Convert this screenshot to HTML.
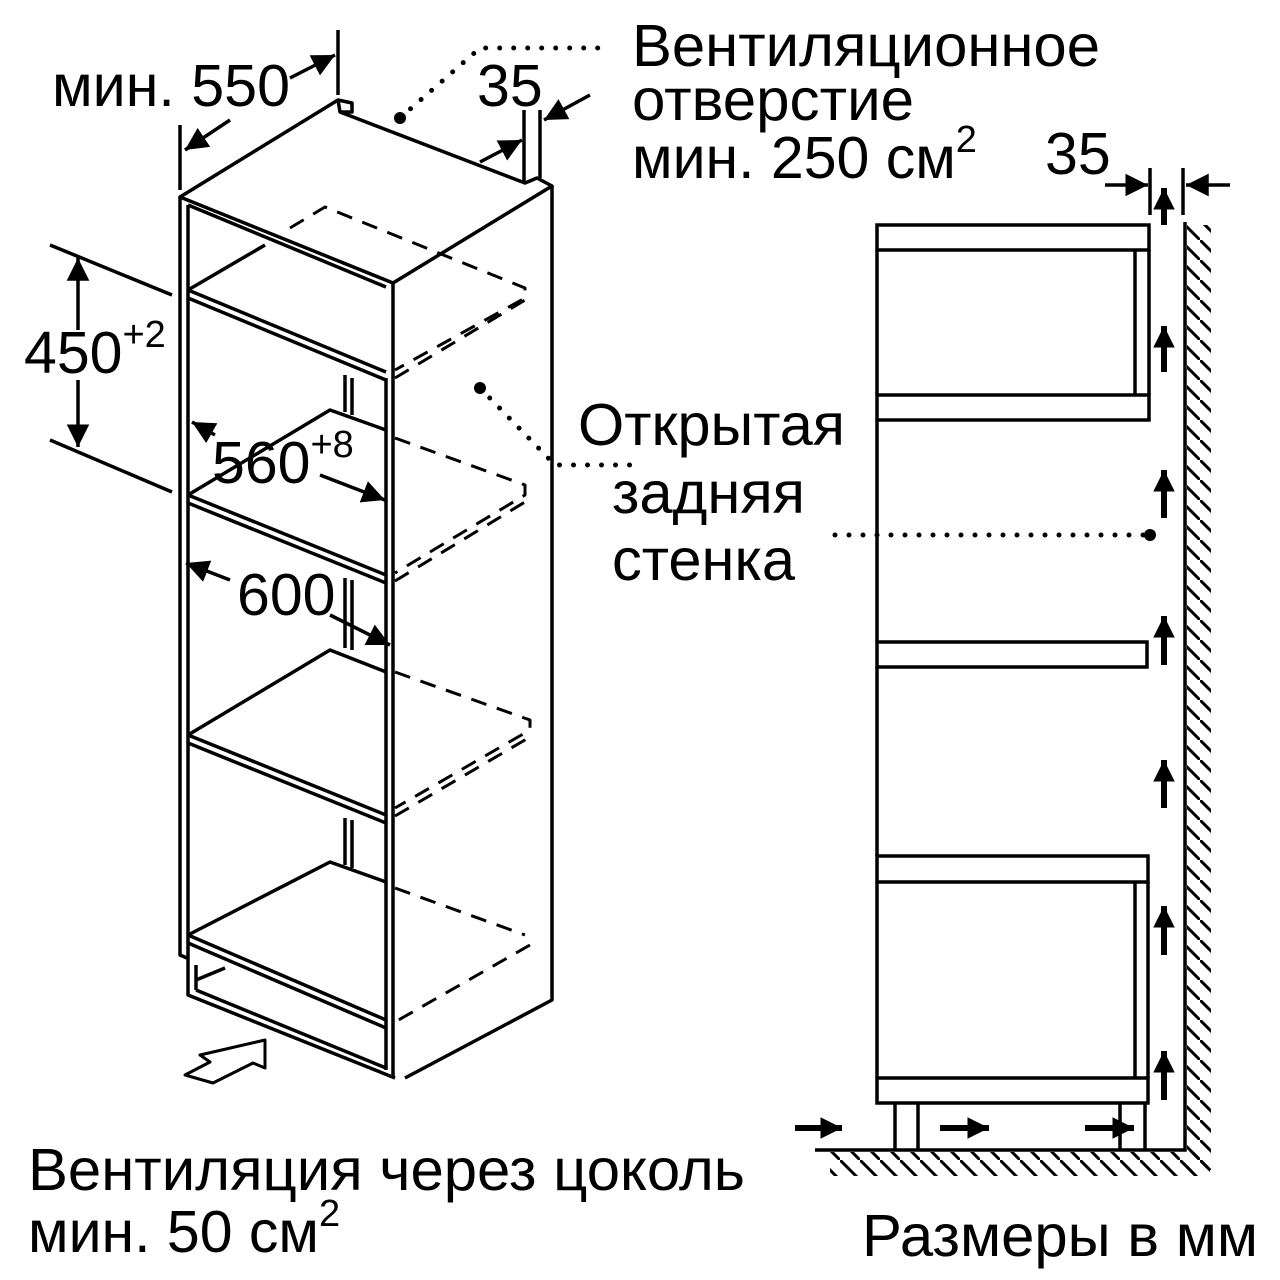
<!DOCTYPE html>
<html><head><meta charset="utf-8"><style>
html,body{margin:0;padding:0;background:#fff}
svg{display:block}
text{font-family:"Liberation Sans",sans-serif;fill:#000}
</style></head><body>
<svg width="1280" height="1280" viewBox="0 0 1280 1280" xmlns="http://www.w3.org/2000/svg">
<defs>
<marker id="ah" viewBox="0 0 10 10" refX="10" refY="5" markerWidth="6.5" markerHeight="6.5" orient="auto"><path d="M0,0 L10,5 L0,10 z" fill="#000"/></marker>
<marker id="ah2" viewBox="0 0 10 10" refX="10" refY="5" markerWidth="3.6" markerHeight="3.6" orient="auto"><path d="M0,0 L10,5 L0,10 z" fill="#000"/></marker>
<pattern id="hv" width="20" height="20" patternUnits="userSpaceOnUse"><path d="M0,0 L20,20" stroke="#000" stroke-width="3"/></pattern>
</defs>
<g stroke="#000" stroke-width="3.5" fill="none" stroke-linejoin="round">
<path d="M180,197 L338,100 L352,103 L352,112 L340,112 L525,183 L537,178 L552,186 L393,283 Z" fill="#fff"/>
<path d="M338,100 L340,112"/>
<path d="M180,197 L180,955 L187,958"/>
<path d="M188,205 L188,960"/>
<path d="M552,186 L552,1000 L405,1078"/>
<path d="M393,283 L393,1078"/>
<path d="M386,378 L386,1030"/>
<path d="M188,205 L386,287"/>
<path d="M188,290 L386,372 M188,298 L386,380"/>
<path d="M188,495 L386,575 M188,503 L386,583"/>
<path d="M188,735 L386,815 M188,743 L386,823"/>
<path d="M188,935 L386,1020 M188,943 L386,1028"/>
<path d="M188,290 L265,245 M188,495 L330,410 L386,430 M188,735 L330,650 L386,672 M188,935 L330,862 L386,882"/>
<path d="M345,375 L345,412 M352,378 L352,415 M345,578 L345,648 M352,580 L352,650 M345,818 L345,865 M352,820 L352,868"/>
<path d="M188,960 L188,995 L395,1078 M196,965 L196,990 M196,980 L225,968 M196,990 L386,1068 M386,1030 L386,1070"/>
<g stroke-dasharray="16,11" stroke-width="3">
<path d="M290,228 L325,207 L525,288 L525,298 L395,370 M395,378 L525,300"/>
<path d="M395,438 L525,485 L525,495 L395,573 M395,581 L525,502"/>
<path d="M395,672 L530,720 L530,730 L395,808 M395,816 L530,737"/>
<path d="M395,888 L525,935 M530,945 L395,1022"/>
</g>
<path d="M180,125 L180,190 M338,30 L338,95"/>
<path d="M230,120 L185,150" marker-end="url(#ah)"/>
<path d="M290,78 L335,55" marker-end="url(#ah)"/>
<path d="M524,110 L524,182 M540,110 L540,178"/>
<path d="M480,162 L522,140" marker-end="url(#ah)"/>
<path d="M590,95 L544,120" marker-end="url(#ah)"/>
<path d="M50,245 L172,295 M50,440 L172,492"/>
<path d="M78,330 L78,258" marker-end="url(#ah)"/>
<path d="M78,380 L78,447" marker-end="url(#ah)"/>
<path d="M215,435 L192,422" marker-end="url(#ah)"/>
<path d="M320,475 L385,500" marker-end="url(#ah)"/>
<path d="M230,580 L186,563" marker-end="url(#ah)"/>
<path d="M330,615 L390,645" marker-end="url(#ah)"/>
<path d="M185,1075 L210,1062 L200,1055 L265,1040 L265,1068 L253,1063 L213,1083 Z" stroke-width="3"/>
</g>
<g fill="#000">
<circle cx="400" cy="118" r="6"/><circle cx="480" cy="388" r="6"/><circle cx="1150" cy="535" r="6"/>
</g>
<g stroke="#000" stroke-width="5" stroke-linecap="round" stroke-dasharray="0,14" fill="none">
<path d="M400,118 L480,48 L605,48"/>
<path d="M480,388 L555,465 L630,465"/>
<path d="M835,535 L1150,535"/>
</g>
<g stroke="#000" stroke-width="3.5" fill="none">
<rect x="877" y="225" width="272" height="25"/>
<rect x="877" y="395" width="272" height="25"/>
<path d="M877,250 L877,395 M1135,250 L1135,395 M1149,250 L1149,395"/>
<path d="M877,420 L877,642"/>
<rect x="877" y="642" width="270" height="25"/>
<path d="M877,667 L877,856"/>
<rect x="877" y="856" width="271" height="26"/>
<rect x="877" y="1078" width="271" height="25"/>
<path d="M877,882 L877,1078 M1135,882 L1135,1078 M1148,882 L1148,1078"/>
<path d="M895,1103 L895,1150 M918,1103 L918,1150 M1120,1103 L1120,1150 M1145,1103 L1145,1150"/>
<path d="M815,1150 L1185,1150 L1185,222"/>
<path d="M1150,168 L1150,215 M1183,168 L1183,215"/>
<path d="M1105,185 L1148,185" marker-end="url(#ah)"/>
<path d="M1230,185 L1186,185" marker-end="url(#ah)"/>
</g>
<rect x="1187" y="225" width="24" height="945" fill="url(#hv)"/>
<rect x="830" y="1152" width="380" height="24" fill="url(#hv)"/>
<g stroke="#000" stroke-width="6" fill="none">
<path d="M1164,225 L1164,188" marker-end="url(#ah2)"/>
<path d="M1164,372 L1164,326" marker-end="url(#ah2)"/>
<path d="M1164,518 L1164,470" marker-end="url(#ah2)"/>
<path d="M1164,665 L1164,616" marker-end="url(#ah2)"/>
<path d="M1164,808 L1164,760" marker-end="url(#ah2)"/>
<path d="M1164,955 L1164,906" marker-end="url(#ah2)"/>
<path d="M1164,1100 L1164,1051" marker-end="url(#ah2)"/>
<path d="M795,1128 L842,1128" marker-end="url(#ah2)"/>
<path d="M940,1128 L989,1128" marker-end="url(#ah2)"/>
<path d="M1085,1128 L1134,1128" marker-end="url(#ah2)"/>
</g>
<g font-size="59">
<text x="52" y="106" textLength="238" lengthAdjust="spacingAndGlyphs">мин. 550</text>
<text x="477" y="106">35</text>
<text x="632" y="66" textLength="468" lengthAdjust="spacingAndGlyphs">Вентиляционное</text>
<text x="632" y="120" textLength="282" lengthAdjust="spacingAndGlyphs">отверстие</text>
<text x="632" y="178">мин. 250 см<tspan font-size="38" dy="-26">2</tspan></text>
<text x="1045" y="174">35</text>
<text x="24" y="373">450<tspan font-size="38" dy="-26">+2</tspan></text>
<text x="212" y="483">560<tspan font-size="38" dy="-26">+8</tspan></text>
<text x="237" y="615">600</text>
<text x="578" y="445" textLength="267" lengthAdjust="spacingAndGlyphs">Открытая</text>
<text x="612" y="513" textLength="193" lengthAdjust="spacingAndGlyphs">задняя</text>
<text x="612" y="580" textLength="183" lengthAdjust="spacingAndGlyphs">стенка</text>
<text x="28" y="1190" textLength="717" lengthAdjust="spacingAndGlyphs">Вентиляция через цоколь</text>
<text x="28" y="1252">мин. 50 см<tspan font-size="38" dy="-26">2</tspan></text>
<text x="862" y="1256" textLength="396" lengthAdjust="spacingAndGlyphs">Размеры в мм</text>
</g>
</svg>
</body></html>
